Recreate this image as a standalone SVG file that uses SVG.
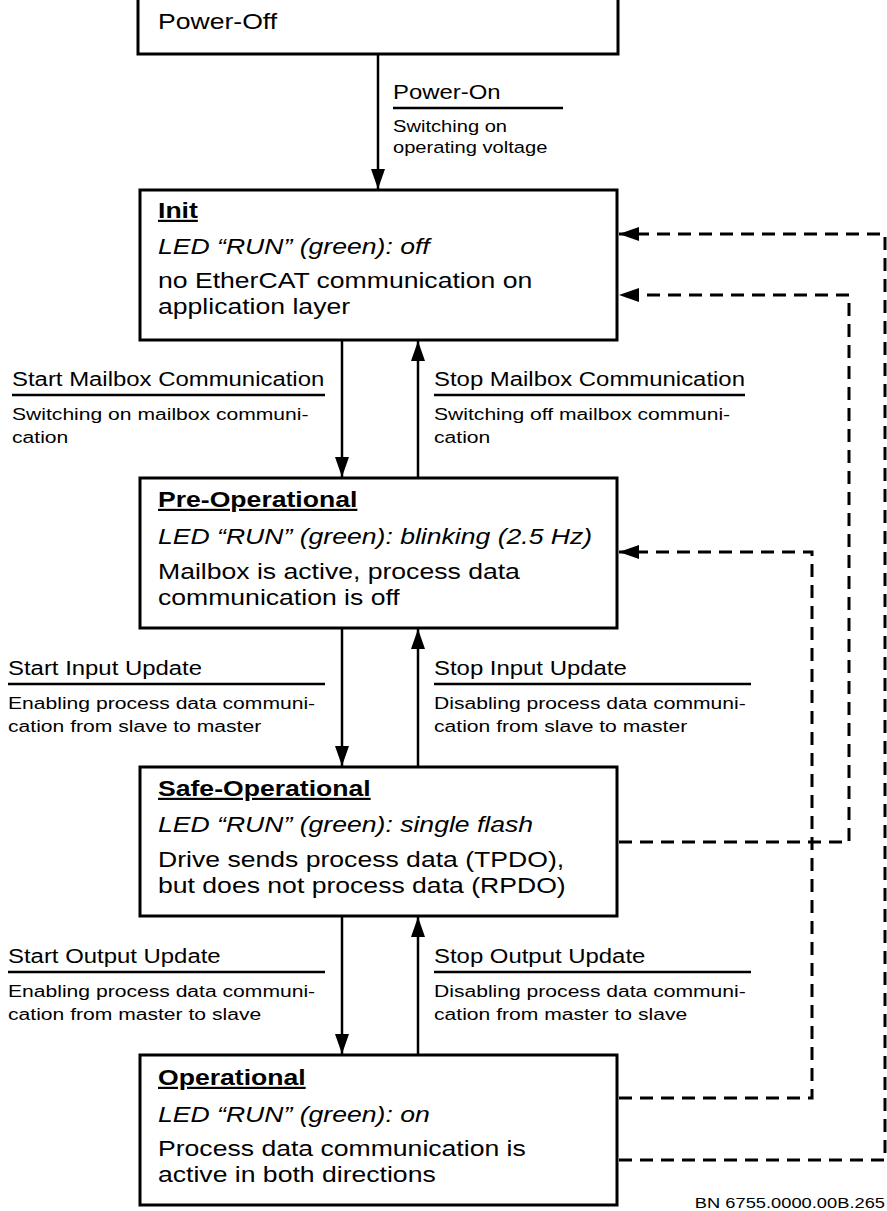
<svg xmlns="http://www.w3.org/2000/svg" width="887" height="1211" viewBox="0 0 887 1211">
<style>
text{font-family:"Liberation Sans",Arial,sans-serif;fill:#000}
.box{fill:#fff;stroke:#000;stroke-width:3}
.t{font-size:21.8px}
.h{font-size:21.8px;font-weight:bold;text-decoration:underline}
.i{font-size:21.8px;font-style:italic}
.lt{font-size:19.6px}
.ld{font-size:17.3px}
.pd{font-size:16.5px}
.bn{font-size:15px}
.sol{fill:none;stroke:#000;stroke-width:2.5}
.ul{fill:none;stroke:#000;stroke-width:2.5}
.dash{fill:none;stroke:#000;stroke-width:3;stroke-dasharray:13 8}
</style>
<defs>
<marker id="ah" markerUnits="userSpaceOnUse" markerWidth="20" markerHeight="14" refX="20" refY="7" orient="auto">
<path d="M0,0 L20,7 L0,14 Z" fill="#000" stroke="none"/>
</marker>
</defs>

<g id="power-off">
<rect class="box" x="138" y="-10" width="480" height="64"/>
<text class="t" transform="translate(158,29) scale(1.22,1)">Power-Off</text>
</g>

<g id="init">
<rect class="box" x="140" y="190" width="477" height="150"/>
<text class="h" transform="translate(158,218) scale(1.22,1)">Init</text>
<text class="i" transform="translate(158,254) scale(1.22,1)">LED “RUN” (green): off</text>
<text class="t" transform="translate(158,288) scale(1.22,1)">no EtherCAT communication on</text>
<text class="t" transform="translate(158,314) scale(1.22,1)">application layer</text>
</g>

<g id="pre-operational">
<rect class="box" x="140" y="478" width="477" height="150"/>
<text class="h" transform="translate(158,507) scale(1.22,1)">Pre-Operational</text>
<text class="i" transform="translate(158,544) scale(1.22,1)">LED “RUN” (green): blinking (2.5 Hz)</text>
<text class="t" transform="translate(158,579) scale(1.22,1)">Mailbox is active, process data</text>
<text class="t" transform="translate(158,605) scale(1.22,1)">communication is off</text>
</g>

<g id="safe-operational">
<rect class="box" x="140" y="767" width="477" height="149"/>
<text class="h" transform="translate(158,796) scale(1.22,1)">Safe-Operational</text>
<text class="i" transform="translate(158,832) scale(1.22,1)">LED “RUN” (green): single flash</text>
<text class="t" transform="translate(158,867) scale(1.22,1)">Drive sends process data (TPDO),</text>
<text class="t" transform="translate(158,893) scale(1.22,1)">but does not process data (RPDO)</text>
</g>

<g id="operational">
<rect class="box" x="140" y="1055" width="477" height="150"/>
<text class="h" transform="translate(158,1085) scale(1.22,1)">Operational</text>
<text class="i" transform="translate(158,1122) scale(1.22,1)">LED “RUN” (green): on</text>
<text class="t" transform="translate(158,1156) scale(1.22,1)">Process data communication is</text>
<text class="t" transform="translate(158,1182) scale(1.22,1)">active in both directions</text>
</g>

<g id="connectors">
<line class="sol" x1="378" y1="54" x2="378" y2="189" marker-end="url(#ah)"/>
<line class="sol" x1="342" y1="340" x2="342" y2="477" marker-end="url(#ah)"/>
<line class="sol" x1="418" y1="478" x2="418" y2="341" marker-end="url(#ah)"/>
<line class="sol" x1="342" y1="628" x2="342" y2="766" marker-end="url(#ah)"/>
<line class="sol" x1="418" y1="767" x2="418" y2="629" marker-end="url(#ah)"/>
<line class="sol" x1="342" y1="916" x2="342" y2="1054" marker-end="url(#ah)"/>
<line class="sol" x1="418" y1="1055" x2="418" y2="917" marker-end="url(#ah)"/>
<path class="dash" d="M619,1160 H885 V234 H619" marker-end="url(#ah)"/>
<path class="dash" d="M619,842 H849 V295 H619" marker-end="url(#ah)"/>
<path class="dash" d="M619,1098 H812 V552 H619" marker-end="url(#ah)"/>
</g>

<g id="labels">
<text class="lt" transform="translate(393,99) scale(1.22,1)">Power-On</text>
<line class="ul" x1="393" y1="108" x2="563" y2="108"/>
<text class="pd" transform="translate(393,132) scale(1.22,1)">Switching on</text>
<text class="pd" transform="translate(393,153) scale(1.22,1)">operating voltage</text>

<text class="lt" transform="translate(12,386) scale(1.22,1)">Start Mailbox Communication</text>
<line class="ul" x1="12" y1="395" x2="325" y2="395"/>
<text class="ld" transform="translate(12,420) scale(1.22,1)">Switching on mailbox communi-</text>
<text class="ld" transform="translate(12,443) scale(1.22,1)">cation</text>

<text class="lt" transform="translate(434,386) scale(1.22,1)">Stop Mailbox Communication</text>
<line class="ul" x1="434" y1="395" x2="745" y2="395"/>
<text class="ld" transform="translate(434,420) scale(1.22,1)">Switching off mailbox communi-</text>
<text class="ld" transform="translate(434,443) scale(1.22,1)">cation</text>

<text class="lt" transform="translate(8,675) scale(1.22,1)">Start Input Update</text>
<line class="ul" x1="8" y1="684" x2="325" y2="684"/>
<text class="ld" transform="translate(8,709) scale(1.22,1)">Enabling process data communi-</text>
<text class="ld" transform="translate(8,732) scale(1.22,1)">cation from slave to master</text>

<text class="lt" transform="translate(434,675) scale(1.22,1)">Stop Input Update</text>
<line class="ul" x1="434" y1="684" x2="751" y2="684"/>
<text class="ld" transform="translate(434,709) scale(1.22,1)">Disabling process data communi-</text>
<text class="ld" transform="translate(434,732) scale(1.22,1)">cation from slave to master</text>

<text class="lt" transform="translate(8,963) scale(1.22,1)">Start Output Update</text>
<line class="ul" x1="8" y1="972" x2="325" y2="972"/>
<text class="ld" transform="translate(8,997) scale(1.22,1)">Enabling process data communi-</text>
<text class="ld" transform="translate(8,1020) scale(1.22,1)">cation from master to slave</text>

<text class="lt" transform="translate(434,963) scale(1.22,1)">Stop Output Update</text>
<line class="ul" x1="434" y1="972" x2="751" y2="972"/>
<text class="ld" transform="translate(434,997) scale(1.22,1)">Disabling process data communi-</text>
<text class="ld" transform="translate(434,1020) scale(1.22,1)">cation from master to slave</text>

<text class="bn" text-anchor="end" transform="translate(885,1208) scale(1.22,1)">BN 6755.0000.00B.265</text>
</g>
</svg>
